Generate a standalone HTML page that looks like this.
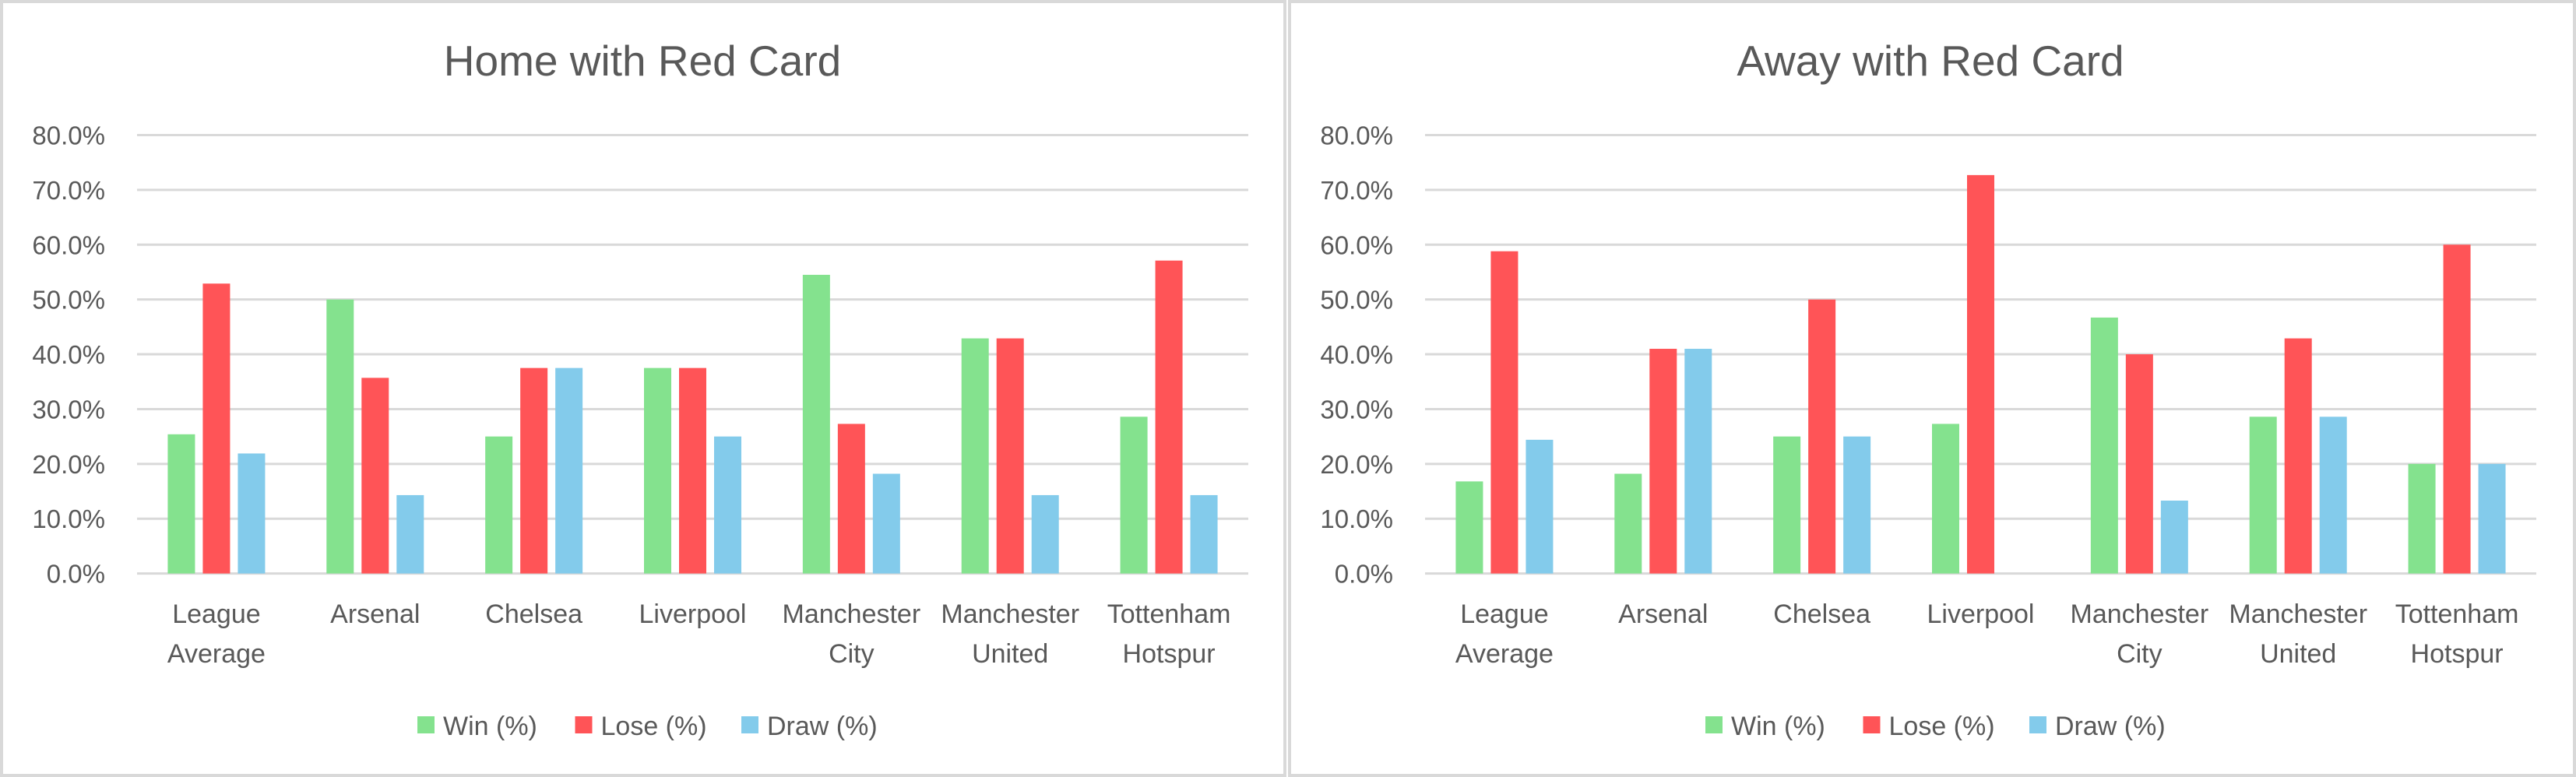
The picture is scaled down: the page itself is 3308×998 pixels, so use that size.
<!DOCTYPE html>
<html><head><meta charset="utf-8">
<style>
html,body{margin:0;padding:0;background:#fff;}
svg{display:block;font-family:"Liberation Sans",Arial,sans-serif;}
</style></head>
<body>
<svg id="chart" width="3308" height="998" viewBox="0 0 3308 998" xmlns="http://www.w3.org/2000/svg"></svg>
<script>
const categories = [["League","Average"],["Arsenal"],["Chelsea"],["Liverpool"],["Manchester","City"],["Manchester","United"],["Tottenham","Hotspur"]];
const seriesNames = ["Win (%)","Lose (%)","Draw (%)"];
const seriesColors = ["#84e28e","#ff5457","#83cbeb"];
const homeWin  = [25.4, 50.0, 25.0, 37.5, 54.5, 42.9, 28.6];
const homeLose = [52.9, 35.7, 37.5, 37.5, 27.3, 42.9, 57.1];
const homeDraw = [21.9, 14.3, 37.5, 25.0, 18.2, 14.3, 14.3];
const awayWin  = [16.8, 18.2, 25.0, 27.3, 46.7, 28.6, 20.0];
const awayLose = [58.8, 41.0, 50.0, 72.7, 40.0, 42.9, 60.0];
const awayDraw = [24.4, 41.0, 25.0, 0.0, 13.3, 28.6, 20.0];
const yTicks = [0,10,20,30,40,50,60,70,80];
const yTickLabels = ["0.0%","10.0%","20.0%","30.0%","40.0%","50.0%","60.0%","70.0%","80.0%"];
const titles = ["Home with Red Card","Away with Red Card"];

const NS="http://www.w3.org/2000/svg";
const svg=document.getElementById('chart');
function mk(tag,attrs,parent){const e=document.createElementNS(NS,tag);for(const k in attrs)e.setAttribute(k,attrs[k]);(parent||svg).appendChild(e);return e;}

function drawChart(ox, fw, title, data, key){
  const g=mk('g',{});
  
  
  const frame=mk('rect',{x:ox+2,y:2,width:fw-4,height:994,fill:'#fff',stroke:'#d9d9d9','stroke-width':4},g);
  
  
  const left=ox+176, right=ox+1603, y0=736.6, y80=173.5;
  const yScale=v=>y0-(v/80)*(y0-y80);
  const band=(right-left)/categories.length;
  const xC=i=>left+band*(i+0.5);
  const t=mk('text',{x:ox+825,y:97,'text-anchor':'middle','font-size':55,fill:'#595959'},g);
  t.textContent=title;
  
  
  yTicks.forEach((v,i)=>{
    const ln=mk('line',{x1:left,x2:right,y1:yScale(v),y2:yScale(v),stroke:'#d9d9d9','stroke-width':3},g);
    
    
    const tl=mk('text',{x:ox+135,y:yScale(v)+12,'text-anchor':'end','font-size':33,fill:'#595959'},g);
    tl.textContent=yTickLabels[i];
    
    
  });
  const bw=35, off=45;
  data.forEach((vals,s)=>{
    vals.forEach((v,i)=>{
      const cx=xC(i)+(s-1)*off;
      const r=mk('rect',{x:cx-bw/2,y:yScale(v),width:bw,height:yScale(0)-yScale(v),fill:seriesColors[s]},g);
      
      
    });
  });
  categories.forEach((lines,i)=>{
    lines.forEach((ln,j)=>{
      const ct=mk('text',{x:xC(i),y:800+j*51,'text-anchor':'middle','font-size':34,fill:'#595959'},g);
      ct.textContent=ln;
      
      
    });
  });
  const legX=[536,738.5,952];
  seriesNames.forEach((n,s)=>{
    const sw=mk('rect',{x:ox+legX[s],y:920,width:22,height:22,fill:seriesColors[s]},g);
    
    
    const lt=mk('text',{x:ox+legX[s]+33,y:944,'font-size':34,fill:'#595959'},g);
    lt.textContent=n;
    
    
  });
}
drawChart(0,1652,titles[0],[homeWin,homeLose,homeDraw],'home');
drawChart(1654,1654,titles[1],[awayWin,awayLose,awayDraw],'away');
</script>
</body></html>
